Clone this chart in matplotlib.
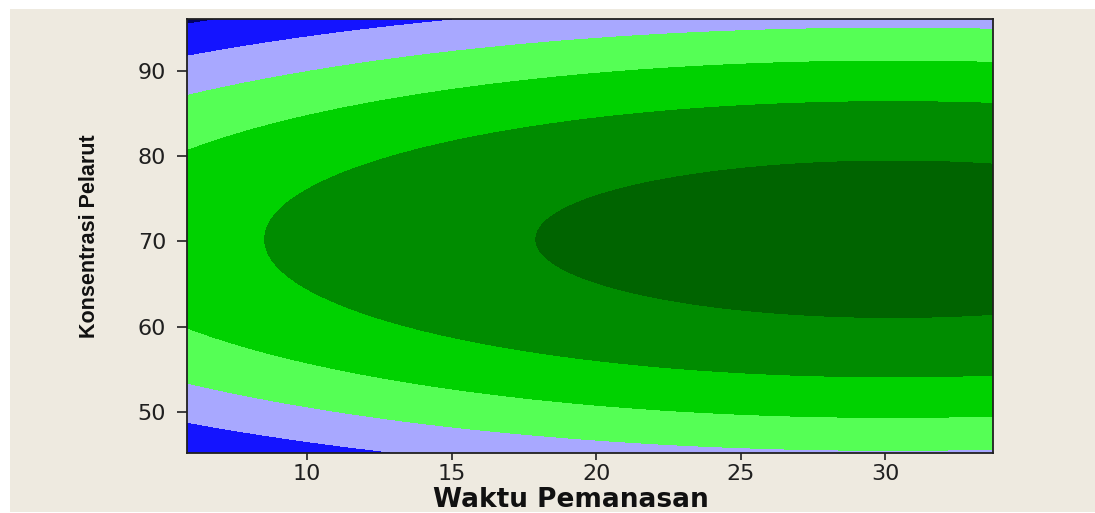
import numpy as np
import matplotlib
matplotlib.use("Agg")
import matplotlib.pyplot as plt
from matplotlib.patches import Rectangle

# data (quadratic response surface, Minitab style)
waktu_range = [5.84, 33.73]        # Waktu Pemanasan (x)
konsentrasi_range = [45.2, 96.06]  # Konsentrasi Pelarut (y)
coef_waktu = [-68.0, 33.3, -0.55]  # a + b*x + c*x^2
pusat_konsentrasi = 70.25          # centre of the ridge in y
coef_konsentrasi = -1.0            # curvature in y
batas_level = [-528, -352, -176, 0, 176, 352]
warna = ["#000066", "#1414ff", "#a8a8ff", "#55ff55", "#00d200", "#008c00", "#006400"]
xticks = [10, 15, 20, 25, 30]
yticks = [50, 60, 70, 80, 90]

# surface grid
x = np.linspace(waktu_range[0], waktu_range[1], 500)
y = np.linspace(konsentrasi_range[0], konsentrasi_range[1], 500)
X, Y = np.meshgrid(x, y)
Z = (coef_waktu[0] + coef_waktu[1] * X + coef_waktu[2] * X**2
     + coef_konsentrasi * (Y - pusat_konsentrasi)**2)

fig = plt.figure(figsize=(10.95, 5.13), dpi=100, facecolor="white")
# beige panel behind the plot (white strips on top/left like the screenshot)
panel = Rectangle((10 / 1095, 1 / 513), 1.0, 503 / 513,
                  transform=fig.transFigure, facecolor="#eeeae0",
                  edgecolor="none", zorder=-10)
fig.add_artist(panel)

ax = fig.add_axes([187 / 1095, 60 / 513, 806 / 1095, 434 / 513])
ax.set_zorder(1)
levels = [Z.min() - 1] + batas_level + [Z.max() + 1]
ax.contourf(X, Y, Z, levels=levels, colors=warna)

ax.set_xlim(waktu_range)
ax.set_ylim(konsentrasi_range)
ax.set_xticks(xticks)
ax.set_yticks(yticks)

for s in ["top", "right", "left", "bottom"]:
    ax.spines[s].set_color("#202020")
    ax.spines[s].set_linewidth(1.3)

ax.tick_params(axis="x", length=5, width=1.2, pad=3, labelsize=16,
               colors="#202020")
ax.tick_params(axis="y", length=7, width=1.2, pad=8, labelsize=16,
               colors="#202020")

ax.set_xlabel("Waktu Pemanasan", fontsize=19, fontweight="bold",
              color="#111111")
ax.xaxis.set_label_coords(0.476, -0.078)
ax.set_ylabel("Konsentrasi Pelarut", fontsize=15.5, fontweight="bold",
              color="#111111", family="Liberation Sans")
ax.yaxis.set_label_coords(-0.108, 0.5)

fig.savefig("out.png", dpi=100, facecolor="white")
